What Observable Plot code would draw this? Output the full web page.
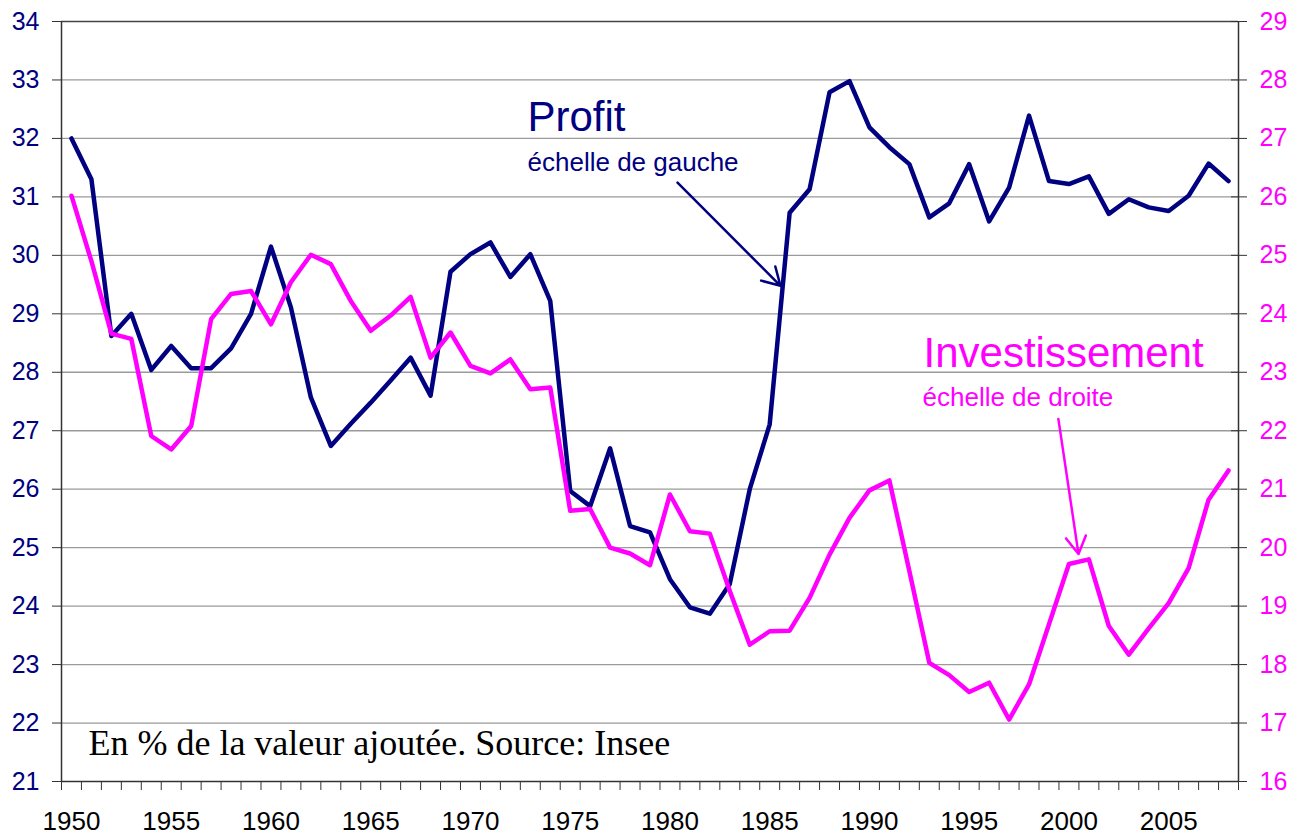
<!DOCTYPE html>
<html><head><meta charset="utf-8">
<script src="https://cdn.jsdelivr.net/npm/d3@7"></script>
<script src="https://cdn.jsdelivr.net/npm/@observablehq/plot@0.6"></script>
<style>body{margin:0;background:#fff} #chart svg{display:block}</style>
</head><body><div id="chart"></div>
<script>
const years = [1950,1951,1952,1953,1954,1955,1956,1957,1958,1959,
  1960,1961,1962,1963,1964,1965,1966,1967,1968,1969,
  1970,1971,1972,1973,1974,1975,1976,1977,1978,1979,
  1980,1981,1982,1983,1984,1985,1986,1987,1988,1989,
  1990,1991,1992,1993,1994,1995,1996,1997,1998,1999,
  2000,2001,2002,2003,2004,2005,2006,2007,2008];
// Profit, left scale (% of value added)
const profit = [32.0,31.3,28.62,29.0,28.04,28.45,28.07,28.07,28.41,29.0,
  30.15,29.11,27.57,26.74,27.12,27.48,27.86,28.25,27.6,29.72,
  30.02,30.22,29.63,30.02,29.22,25.97,25.71,26.7,25.37,25.26,
  24.46,23.98,23.87,24.38,26.0,27.11,30.73,31.13,32.79,32.98,
  32.19,31.85,31.56,30.65,30.89,31.56,30.58,31.16,32.39,31.27,
  31.22,31.35,30.71,30.96,30.82,30.76,31.02,31.57,31.27];
// Investissement, right scale (% of value added)
const investissement = [26.02,24.9,23.66,23.57,21.91,21.68,22.08,23.91,24.34,24.39,
  23.82,24.54,25.01,24.85,24.22,23.71,23.97,24.29,23.25,23.68,
  23.11,22.98,23.22,22.71,22.74,20.63,20.66,20.0,19.9,19.7,
  20.91,20.28,20.24,19.26,18.34,18.57,18.58,19.14,19.88,20.51,
  20.98,21.15,19.6,18.03,17.82,17.53,17.69,17.06,17.66,18.69,
  19.72,19.8,18.66,18.17,18.62,19.05,19.65,20.82,21.32];
const leftTicks = [21,22,23,24,25,26,27,28,29,30,31,32,33,34];
const rightTicks = [16,17,18,19,20,21,22,23,24,25,26,27,28,29];
const yearLabels = [1950,1955,1960,1965,1970,1975,1980,1985,1990,1995,2000,2005];

const rightOffset = leftTicks[0] - rightTicks[0]; // right axis = left axis - 5
const profitData = years.map((y, i) => ({year: y, v: profit[i]}));
const investData = years.map((y, i) => ({year: y, v: investissement[i] + rightOffset}));
const xMin = years[0] - 0.5, xMax = years[years.length - 1] + 0.5;
const boundaries = years.map(y => y - 0.5).concat([xMax]);

const NAVY = "#000080", PINK = "#FF00FF", AXIS = "#333";
const SANS = "'Liberation Sans', Arial, sans-serif";

const chart = Plot.plot({
  width: 1301, height: 839,
  marginLeft: 61, marginRight: 63, marginTop: 21, marginBottom: 58,
  x: {domain: [xMin, xMax]},
  y: {domain: [leftTicks[0], leftTicks[leftTicks.length - 1]]},
  style: {fontFamily: SANS, background: "#fff"},
  marks: [
    Plot.gridY(leftTicks.slice(1, -1), {stroke: "#9a9a9a", strokeOpacity: 1, strokeWidth: 1.3}),
    Plot.ruleY([leftTicks[leftTicks.length - 1]], {stroke: "#444", strokeWidth: 1.5}),
    Plot.ruleY([leftTicks[0]], {stroke: AXIS, strokeWidth: 1.5}),
    Plot.ruleX([xMin, xMax], {stroke: AXIS, strokeWidth: 1.5}),
    // left axis
    Plot.axisY(leftTicks, {anchor: "left", label: null, tickSize: 9, tickPadding: 13, stroke: AXIS,
      fill: NAVY, fontSize: 25, tickFormat: d => String(d)}),
    // right axis (ticks crossing the axis line)
    Plot.axisY(leftTicks, {anchor: "right", label: null, tickSize: 16, dx: -8, stroke: AXIS,
      tickFormat: () => ""}),
    Plot.axisY(leftTicks, {anchor: "right", label: null, tickSize: 0, tickPadding: 21,
      fill: PINK, fontSize: 25, tickFormat: d => String(d - rightOffset)}),
    // x axis
    Plot.axisX(boundaries, {label: null, tickSize: 9, stroke: AXIS, tickFormat: () => ""}),
    Plot.axisX(yearLabels, {label: null, tickSize: 0, tickPadding: 30, fill: "#000", fontSize: 26,
      tickFormat: d => String(d)}),
    // series
    Plot.line(profitData, {x: "year", y: "v", stroke: NAVY, strokeWidth: 4.5}),
    Plot.line(investData, {x: "year", y: "v", stroke: PINK, strokeWidth: 4.5}),
    // annotations
    Plot.text(["Profit"], {x: 1972.86, y: 32.134, text: d => d, textAnchor: "start",
      lineAnchor: "bottom", fill: NAVY, fontSize: 42}),
    Plot.text(["échelle de gauche"], {x: 1972.86, y: 31.449, text: d => d, textAnchor: "start",
      lineAnchor: "bottom", fill: NAVY, fontSize: 26}),
    Plot.arrow([0], {x1: 1980.38, y1: 31.243, x2: 1985.54, y2: 29.479, stroke: NAVY,
      strokeWidth: 2.5, headLength: 12, bend: 0}),
    Plot.text(["Investissement"], {x: 1992.71, y: 28.093, text: d => d, textAnchor: "start",
      lineAnchor: "bottom", fill: PINK, fontSize: 42}),
    Plot.text(["échelle de droite"], {x: 1992.66, y: 27.425, text: d => d, textAnchor: "start",
      lineAnchor: "bottom", fill: PINK, fontSize: 26}),
    Plot.arrow([0], {x1: 1999.47, y1: 27.202, x2: 2000.48, y2: 24.89, stroke: PINK,
      strokeWidth: 2.5, headLength: 12, bend: 0}),
    Plot.text(["En % de la valeur ajoutée. Source: Insee"], {x: 1950.85, y: 21.45, text: d => d,
      textAnchor: "start", lineAnchor: "bottom", fill: "#000", fontSize: 36,
      fontFamily: "'Liberation Serif', 'Times New Roman', serif"})
  ]
});
document.getElementById("chart").appendChild(chart);
</script>
</body></html>
